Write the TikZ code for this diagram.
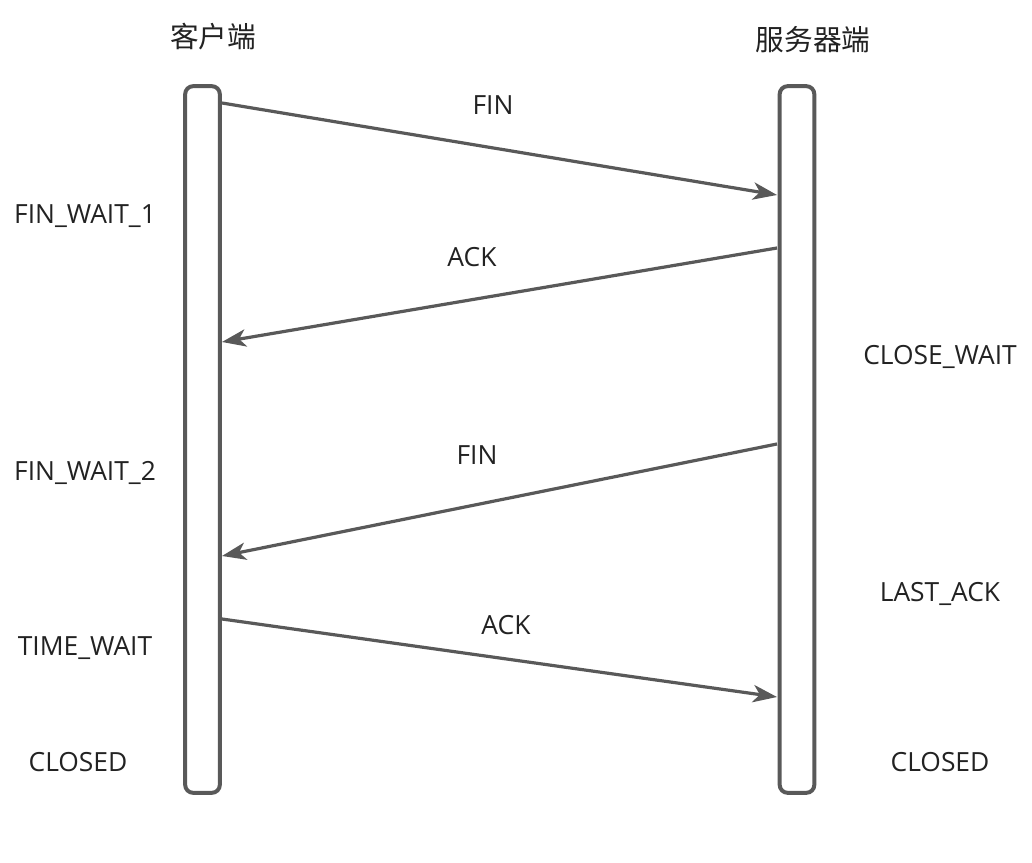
\documentclass[tikz,border=0pt]{standalone}
\usepackage{fontspec}
\setmainfont{Open Sans}
\newfontfamily\cjk{Noto Sans CJK SC}
\usepackage{xcolor}
\definecolor{LineGray}{HTML}{595959}
\definecolor{TextDark}{HTML}{222222}
\usepackage{tikz}
\usetikzlibrary{arrows.meta,positioning}

\begin{document}
\begin{tikzpicture}[x=0.75pt, y=-0.75pt, >={Stealth[length=18pt, width=13pt, inset=5pt]},
  every node/.style={font=\fontsize{19.8}{23}\selectfont, text=TextDark, align=center},
  lifeline/.style={draw=LineGray, line width=3pt, rounded corners=6pt, minimum width=26pt, minimum height=530pt, inner sep=0pt},
  msg/.style={->, draw=LineGray, line width=2.4pt},
  title/.style={font=\cjk\fontsize{21.5}{25}\selectfont},
  state/.style={inner sep=0pt}]
  \useasboundingbox (0,0) rectangle (1032,863);
  % lifelines
  \node[lifeline] (client) at (202.5,439.5) {};
  \node[lifeline] (server) at (797,439.5) {};
  \node[title] (clienttitle) at (213,37) {客户端};
  \node[title] (servertitle) at (813,40) {服务器端};
  % message end points
  \coordinate (c1) at (222,103); \coordinate (s1) at (777,195);
  \coordinate (s2) at (777,248); \coordinate (c2) at (222,342);
  \coordinate (s3) at (777,444); \coordinate (c3) at (222,556);
  \coordinate (c4) at (222,619); \coordinate (s4) at (777,697);
  \draw[msg] (c1) -- (s1);
  \draw[msg] (s2) -- (c2);
  \draw[msg] (s3) -- (c3);
  \draw[msg] (c4) -- (s4);
  \node (fin1) at (493,105) {FIN};
  \node (ack1) at (472,257) {ACK};
  \node (fin2) at (477,455) {FIN};
  \node (ack2) at (506,625) {ACK};
  % states
  \node[state] (finwaita) at (85,216) {FIN\_WAIT\_1};
  \node[state] (finwaitb) at (85,473) {FIN\_WAIT\_2};
  \node[state] (timewait) at (85,648) {TIME\_WAIT};
  \node[state] (cclosed) at (78,762) {CLOSED};
  \node[state] (closewait) at (940,357) {CLOSE\_WAIT};
  \node[state] (lastack) at (940,594) {LAST\_ACK};
  \node[state] (sclosed) at (940,762) {CLOSED};
\end{tikzpicture}
\end{document}
